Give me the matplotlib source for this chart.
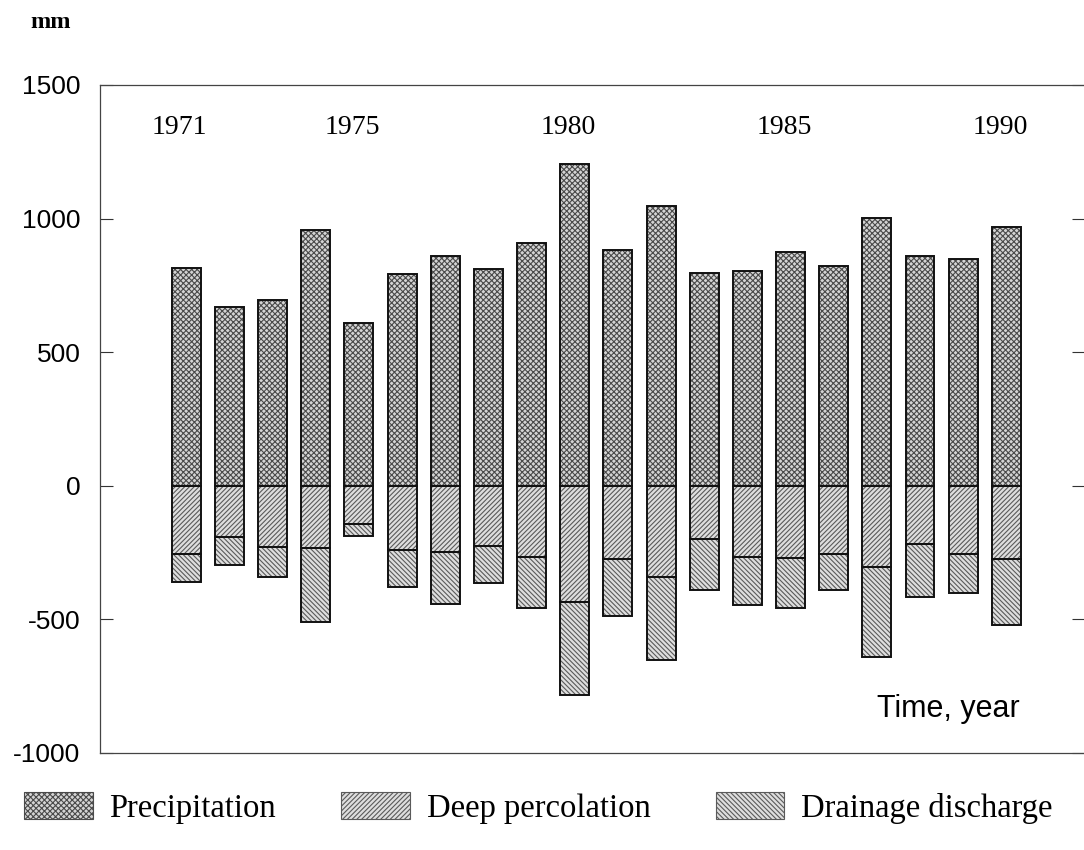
import matplotlib
matplotlib.use("Agg")
import matplotlib.pyplot as plt
from matplotlib.patches import Patch

plt.rcParams['axes.unicode_minus'] = False
plt.rcParams['hatch.linewidth'] = 0.8

# yearly water balance, mm
years = list(range(1971, 1991))
precipitation = [816, 670, 697, 959, 610, 794, 861, 813, 910, 1206,
                 884, 1049, 798, 805, 876, 824, 1004, 861, 850, 970]
deep_percolation = [255, 191, 228, 232, 142, 240, 247, 225, 266, 434,
                    273, 341, 199, 266, 270, 255, 303, 217, 255, 273]
drainage = [105, 105, 113, 277, 45, 138, 195, 138, 191, 349,
            214, 311, 191, 180, 187, 135, 337, 199, 146, 247]
year_labels = [1971, 1975, 1980, 1985, 1990]
yticks = [-1000, -500, 0, 500, 1000, 1500]

serif = 'Liberation Serif'
sans = 'Liberation Sans'

fig = plt.figure(figsize=(10.84, 8.5), dpi=100)
ax = fig.add_axes([100 / 1084, 97 / 850, 984 / 1084, 668 / 850])

w = 0.67
# (hatch, hatch colour, background)
styles = [('xxxxxx', '#4a4a4a', '#d4d4d4'),
          ('///////', '#5a5a5a', '#dedede'),
          ('\\\\\\\\\\\\\\', '#5a5a5a', '#dedede')]

neg_perc = [-v for v in deep_percolation]
neg_drain = [-v for v in drainage]

# hatched fills first, then black outlines on top
ax.bar(years, precipitation, w, color=styles[0][2], edgecolor=styles[0][1],
       hatch=styles[0][0], linewidth=0)
ax.bar(years, neg_perc, w, color=styles[1][2], edgecolor=styles[1][1],
       hatch=styles[1][0], linewidth=0)
ax.bar(years, neg_drain, w, bottom=neg_perc, color=styles[2][2],
       edgecolor=styles[2][1], hatch=styles[2][0], linewidth=0)
ax.bar(years, precipitation, w, fill=False, edgecolor='#111111', linewidth=1.4)
ax.bar(years, neg_perc, w, fill=False, edgecolor='#111111', linewidth=1.4)
ax.bar(years, neg_drain, w, bottom=neg_perc, fill=False,
       edgecolor='#111111', linewidth=1.4)

for yr in year_labels:
    ax.text(yr - 0.15, 1340, str(yr), ha='center', va='center',
            fontsize=20, family=serif)

ax.text(1990.3, -865, 'Time, year', ha='right', va='baseline',
        fontsize=22, family=sans)

ax.set_xlim(1969.0, 1991.8)
ax.set_ylim(-1000, 1500)
ax.set_yticks(yticks)
ax.set_yticklabels([str(t) for t in yticks], fontsize=19, family=sans)
ax.set_xticks([])
ax.tick_params(axis='y', direction='in', length=9, width=0.8, pad=14,
               right=True, color='#333333')
for side in ['left', 'top', 'bottom']:
    ax.spines[side].set_color('#444444')
    ax.spines[side].set_linewidth(0.9)
ax.spines['right'].set_visible(False)

fig.text(51 / 1084, 1 - 22 / 850, 'mm', ha='center', va='center',
         fontsize=17.5, family=serif, weight='bold')

handles = [Patch(facecolor=bg, edgecolor=c, hatch=h, linewidth=0.8)
           for h, c, bg in styles]
fig.legend(handles, ['Precipitation', 'Deep percolation', 'Drainage discharge'],
           loc='center left', bbox_to_anchor=(24 / 1084, 1 - 808 / 850),
           ncol=3, frameon=False, borderpad=0, borderaxespad=0,
           handlelength=2.1, handleheight=0.9, handletextpad=0.52,
           columnspacing=2.0, prop={'family': serif, 'size': 23.5})

fig.savefig('out.png', dpi=100)
